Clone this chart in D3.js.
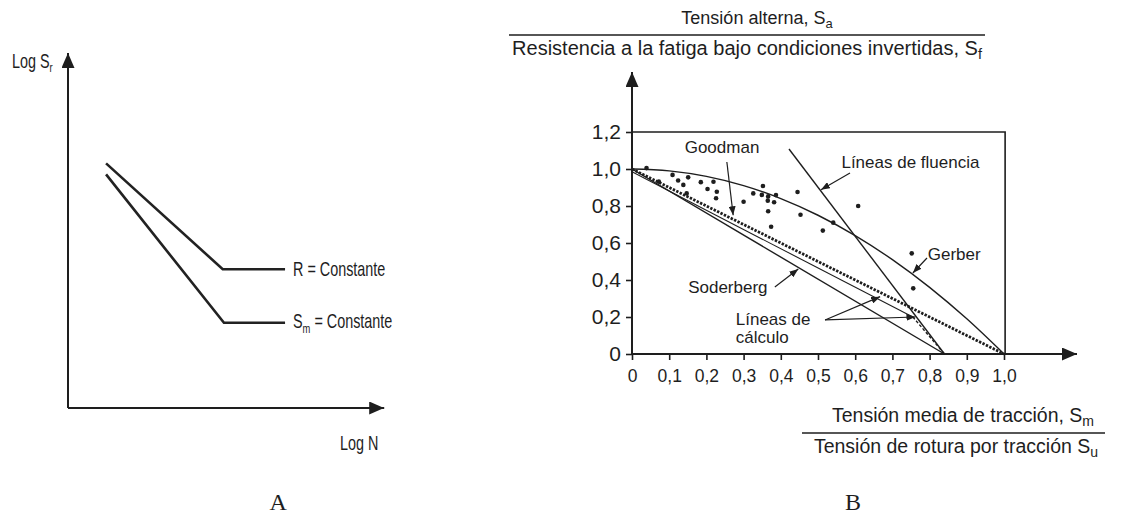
<!DOCTYPE html>
<html>
<head>
<meta charset="utf-8">
<script src="https://cdn.jsdelivr.net/npm/d3@7"></script>
<style>
  html, body { margin: 0; padding: 0; background: #fff; }
  svg { display: block; }
  text { fill: #1e1e1e; }
</style>
</head>
<body>
<svg id="chart" width="1126" height="514"></svg>
<script>
// ---------- Panel A: schematic S–N curves (normalised axes) ----------
const snLabelR = "R = Constante";
const snLabelSm = "= Constante";
const snCurveR  = [[0.124, 0.689], [0.504, 0.391], [0.707, 0.391]];
const snCurveSm = [[0.124, 0.658], [0.508, 0.240], [0.707, 0.240]];

// ---------- Panel B: mean-stress fatigue diagram ----------
const xTicks = [0, 0.1, 0.2, 0.3, 0.4, 0.5, 0.6, 0.7, 0.8, 0.9, 1.0];
const xTickLabels = ["0", "0,1", "0,2", "0,3", "0,4", "0,5", "0,6", "0,7", "0,8", "0,9", "1,0"];
const yTicks = [0, 0.2, 0.4, 0.6, 0.8, 1.0, 1.2];
const yTickLabels = ["0", "0,2", "0,4", "0,6", "0,8", "1,0", "1,2"];

const gerberCurve = [[0, 1], [0.1, 0.99], [0.2, 0.96], [0.3, 0.91], [0.4, 0.84], [0.5, 0.75],
                     [0.6, 0.64], [0.7, 0.51], [0.8, 0.36], [0.9, 0.19], [1.0, 0]];
const goodmanLine = [[0, 1], [1, 0]];
const soderbergLine = [[0, 1], [0.84, 0]];
const yieldLine = [[0.422, 1.108], [0.84, 0]];
const designLine = [[0, 0.985], [0.755, 0.2]];
const designTail = [[0.755, 0.2], [0.84, 0]];

// test results (Sm/Su, Sa/Sf)
const testSm = [0.039, 0.072, 0.109, 0.124, 0.138, 0.151, 0.147, 0.185, 0.203, 0.219, 0.228, 0.226,
                0.300, 0.326, 0.352, 0.349, 0.366, 0.387, 0.365, 0.382, 0.366, 0.374, 0.445, 0.453,
                0.513, 0.541, 0.608, 0.752, 0.756];
const testSa = [1.005, 0.932, 0.968, 0.938, 0.914, 0.955, 0.868, 0.929, 0.892, 0.931, 0.877, 0.842,
                0.823, 0.868, 0.908, 0.860, 0.852, 0.859, 0.829, 0.820, 0.772, 0.688, 0.876, 0.753,
                0.667, 0.710, 0.800, 0.544, 0.355];

const svg = d3.select("#chart");
svg.append("rect").attr("width", 1126).attr("height", 514).attr("fill", "#fff");

const ink = "#1e1e1e";
const defs = svg.append("defs");
function arrowMarker(id, len, half) {
  defs.append("marker")
    .attr("id", id)
    .attr("markerUnits", "userSpaceOnUse")
    .attr("viewBox", `0 0 ${len} ${half * 2}`)
    .attr("refX", len).attr("refY", half)
    .attr("markerWidth", len).attr("markerHeight", half * 2)
    .attr("orient", "auto")
    .append("path")
    .attr("d", `M0,0L${len},${half}L0,${half * 2}Z`)
    .attr("fill", ink);
}
arrowMarker("axisHead", 15, 6.5);
arrowMarker("noteHead", 9, 3.5);

const line = d3.line();

// ================= Panel A =================
const xA = d3.scaleLinear().domain([0, 1]).range([68, 375]);
const yA = d3.scaleLinear().domain([0, 1]).range([408, 53]);
const gA = svg.append("g");

// axes with arrowheads
gA.append("path")
  .attr("d", line([[xA(0), yA(0)], [xA(0), yA(1)]]))
  .attr("stroke", ink).attr("stroke-width", 2).attr("fill", "none")
  .attr("marker-end", "url(#axisHead)");
gA.append("path")
  .attr("d", line([[xA(0), yA(0)], [xA(1.03), yA(0)]]))
  .attr("stroke", ink).attr("stroke-width", 2).attr("fill", "none")
  .attr("marker-end", "url(#axisHead)");

const lineA = d3.line().x(d => xA(d[0])).y(d => yA(d[1]));
[snCurveR, snCurveSm].forEach(c => {
  gA.append("path").attr("d", lineA(c))
    .attr("fill", "none").attr("stroke", "#222").attr("stroke-width", 2.6)
    .attr("stroke-linejoin", "miter");
});

// condensed labels
function narrowText(g, x, y, size, build) {
  const t = g.append("text")
    .attr("transform", `translate(${x},${y}) scale(0.72,1)`)
    .attr("font-family", "'Liberation Sans', Arial, sans-serif")
    .attr("font-size", size);
  build(t);
  return t;
}
narrowText(gA, 12, 68, 20, t => {
  t.append("tspan").text("Log S");
  t.append("tspan").attr("font-size", 13).attr("dy", 4).text("r");
});
narrowText(gA, 293, 276, 20, t => t.text(snLabelR));
narrowText(gA, 293, 328, 20, t => {
  t.append("tspan").text("S");
  t.append("tspan").attr("font-size", 13).attr("dy", 5).text("m");
  t.append("tspan").attr("dy", -5).text(" " + snLabelSm);
});
narrowText(gA, 340, 450, 20, t => t.text("Log N"));

svg.append("text").attr("x", xA(0.685)).attr("y", 510)
  .attr("text-anchor", "middle")
  .attr("font-family", "'Liberation Serif', 'Times New Roman', serif")
  .attr("font-size", 24).text("A");

// ================= Panel B =================
const x = d3.scaleLinear().domain([0, 1]).range([632, 1004]);
const y = d3.scaleLinear().domain([0, 1.2]).range([354, 132]);
const gB = svg.append("g");
const lineB = d3.line().x(d => x(d[0])).y(d => y(d[1]));

// frame (top & right)
gB.append("path")
  .attr("d", line([[x(0), y(1.2)], [x(1.003), y(1.2)], [x(1.003), y(0)]]))
  .attr("fill", "none").attr("stroke", ink).attr("stroke-width", 1.6);

// axes
gB.append("path")
  .attr("d", line([[x(0), y(0)], [x(0), 72]]))
  .attr("stroke", ink).attr("stroke-width", 2).attr("fill", "none")
  .attr("marker-end", "url(#axisHead)");
gB.append("path")
  .attr("d", line([[x(0), y(0)], [1077, y(0)]]))
  .attr("stroke", ink).attr("stroke-width", 2).attr("fill", "none")
  .attr("marker-end", "url(#axisHead)");

// x ticks
const xAxis = d3.axisBottom(x).tickValues(xTicks).tickSize(6).tickPadding(10)
  .tickFormat((d, i) => xTickLabels[i]);
const gx = gB.append("g").attr("transform", `translate(0,${y(0)})`).call(xAxis);
gx.select(".domain").remove();
gx.selectAll(".tick line").attr("stroke", ink).attr("stroke-width", 1.6);
gx.selectAll(".tick text").attr("font-family", "'Liberation Sans', Arial, sans-serif")
  .attr("font-size", 17.5).attr("fill", ink);

// y ticks
const yAxis = d3.axisLeft(y).tickValues(yTicks).tickSize(6).tickPadding(5)
  .tickFormat((d, i) => yTickLabels[i]);
const gy = gB.append("g").attr("transform", `translate(${x(0)},0)`).call(yAxis);
gy.select(".domain").remove();
gy.selectAll(".tick line").attr("stroke", ink).attr("stroke-width", 1.6);
gy.selectAll(".tick text").attr("font-family", "'Liberation Sans', Arial, sans-serif")
  .attr("font-size", 21).attr("fill", ink);

// criteria curves
gB.append("path").attr("d", lineB.curve(d3.curveMonotoneX)(gerberCurve))
  .attr("fill", "none").attr("stroke", ink).attr("stroke-width", 1.4);
lineB.curve(d3.curveLinear);
gB.append("path").attr("d", lineB(yieldLine))
  .attr("fill", "none").attr("stroke", ink).attr("stroke-width", 1.4);
gB.append("path").attr("d", lineB(soderbergLine))
  .attr("fill", "none").attr("stroke", ink).attr("stroke-width", 1.4);
gB.append("path").attr("d", lineB(goodmanLine))
  .attr("fill", "none").attr("stroke", ink).attr("stroke-width", 2.8)
  .attr("stroke-dasharray", "2.4,1.4");
gB.append("path").attr("d", lineB(designLine))
  .attr("fill", "none").attr("stroke", ink).attr("stroke-width", 1.1);
gB.append("path").attr("d", lineB(designTail))
  .attr("fill", "none").attr("stroke", ink).attr("stroke-width", 1.4)
  .attr("stroke-dasharray", "3,2");

// test points
gB.selectAll("circle.pt").data(testSm.map((v, i) => [v, testSa[i]]))
  .join("circle").attr("class", "pt")
  .attr("cx", d => x(d[0])).attr("cy", d => y(d[1])).attr("r", 2.3)
  .attr("fill", ink);

// annotations (text anchor, arrow start → arrow tip, in data units)
const font = "'Liberation Sans', Arial, sans-serif";
function note(lines, tx, ty, anchor) {
  const t = gB.append("text").attr("font-family", font).attr("font-size", 17)
    .attr("text-anchor", anchor || "start");
  lines.forEach((s, i) => {
    t.append("tspan").attr("x", x(tx)).attr("y", y(ty) + i * 18).text(s);
  });
}
function pointer(from, to) {
  gB.append("path").attr("d", line([[x(from[0]), y(from[1])], [x(to[0]), y(to[1])]]))
    .attr("stroke", ink).attr("stroke-width", 1.2).attr("fill", "none")
    .attr("marker-end", "url(#noteHead)");
}
note(["Goodman"], 0.242, 1.085, "middle");
pointer([0.255, 1.038], [0.272, 0.75]);
note(["Líneas de fluencia"], 0.563, 1.005);
pointer([0.586, 0.978], [0.508, 0.888]);
note(["Gerber"], 0.795, 0.508);
pointer([0.793, 0.519], [0.755, 0.438]);
note(["Soderberg"], 0.151, 0.33);
pointer([0.384, 0.362], [0.447, 0.459]);
note(["Líneas de", "cálculo"], 0.279, 0.157);
pointer([0.519, 0.184], [0.667, 0.31]);
pointer([0.519, 0.184], [0.762, 0.2]);

// fraction titles
function fraction(cx, top, bottom, yLine, x0, x1, sizes) {
  const tt = gB.append("text").attr("font-family", font).attr("font-size", sizes[0])
    .attr("text-anchor", "middle").attr("x", cx.top).attr("y", yLine - 11);
  tt.append("tspan").text(top[0]);
  tt.append("tspan").attr("font-size", sizes[0] * 0.72).attr("dy", 4).text(top[1]);
  gB.append("path").attr("d", line([[x0, yLine], [x1, yLine]]))
    .attr("stroke", ink).attr("stroke-width", 1.6);
  const tb = gB.append("text").attr("font-family", font).attr("font-size", sizes[1])
    .attr("text-anchor", "middle").attr("x", cx.bottom).attr("y", yLine + 20);
  tb.append("tspan").text(bottom[0]);
  tb.append("tspan").attr("font-size", sizes[1] * 0.72).attr("dy", 4).text(bottom[1]);
}
fraction({ top: 757, bottom: 747 },
  ["Tensión alterna, S", "a"],
  ["Resistencia a la fatiga bajo condiciones invertidas, S", "f"],
  35, 509, 985, [18, 20]);
fraction({ top: 963, bottom: 956 },
  ["Tensión media de tracción, S", "m"],
  ["Tensión de rotura por tracción S", "u"],
  433, 802, 1105, [19.5, 19.5]);

svg.append("text").attr("x", 853).attr("y", 510)
  .attr("text-anchor", "middle")
  .attr("font-family", "'Liberation Serif', 'Times New Roman', serif")
  .attr("font-size", 24).text("B");
</script>
</body>
</html>
